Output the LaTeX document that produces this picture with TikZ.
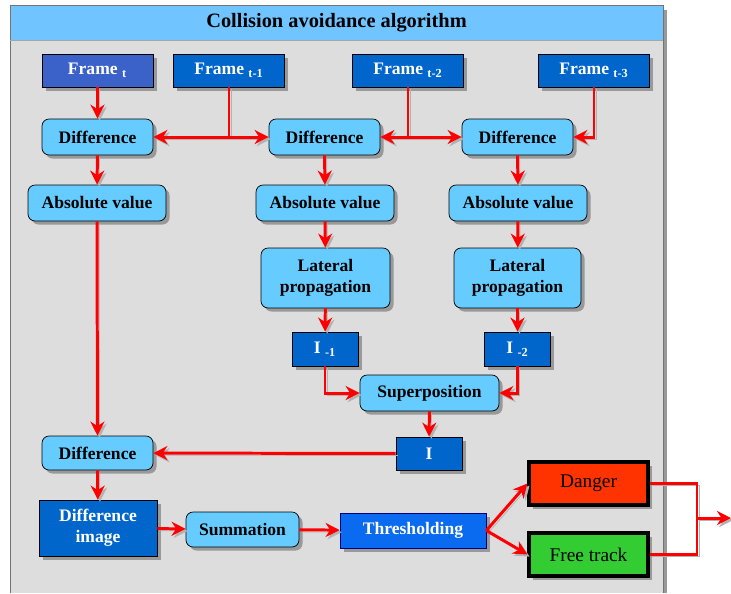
\documentclass[tikz,border=0pt]{standalone}
\usepackage{fontspec}
\setmainfont{Liberation Serif}
\usepackage{tikz}
\usetikzlibrary{arrows.meta, positioning, calc, shadows}
\definecolor{panelgray}{HTML}{DDDDDD}
\definecolor{titleblue}{HTML}{70C4FF}
\definecolor{lightbox}{HTML}{66CCFF}
\definecolor{darkbox}{HTML}{0066CC}
\definecolor{framebox}{HTML}{3A62C8}
\definecolor{thrbox}{HTML}{0A6AF0}
\definecolor{dangerbox}{HTML}{FF3300}
\definecolor{freebox}{HTML}{33CC33}

\begin{document}
\begin{tikzpicture}[x=0.02cm, y=-0.02cm,
  shade/.style={drop shadow={shadow xshift=2pt, shadow yshift=-2pt, fill=black!40, opacity=1}},
  dark/.style={draw=black, fill=darkbox, text=white, font=\bfseries, inner sep=0pt, shade},
  light/.style={draw=black, fill=lightbox, rounded corners=4pt, font=\bfseries, inner sep=0pt, align=center, shade},
  result/.style={draw=black, line width=1.8pt, inner sep=0pt, shade},
  flow/.style={-{Stealth[length=8pt, width=8pt]}, red, line width=1.7pt,
    preaction={draw=black!30, transform canvas={shift={(1.2pt,-1.2pt)}}}},
  flowline/.style={red, line width=1.7pt,
    preaction={draw=black!30, transform canvas={shift={(1.2pt,-1.2pt)}}}}]
  \useasboundingbox (0,0) rectangle (731,593);

  % Panel and title bar
  \fill[black!40] (663,10) rectangle (667,593);
  \fill[panelgray] (10,5) rectangle (663,593);
  \fill[titleblue] (10,5) rectangle (663,40);
  \draw[black!55] (10,593) -- (10,5) -- (663,5) -- (663,593);
  \draw[black!35] (10,40) -- (663,40);
  \node[font=\fontsize{11.6}{14}\selectfont\bfseries] (title) at (336.5,22.5) {Collision avoidance algorithm};

  % Input frames
  \node[dark, fill=framebox, minimum width=111*0.02cm, minimum height=33*0.02cm] (fT) at (97.5,70.5) {Frame \textsubscript{t}};
  \node[dark, minimum width=111*0.02cm, minimum height=33*0.02cm] (fT1) at (229,70.5) {Frame \textsubscript{t-1}};
  \node[dark, minimum width=111*0.02cm, minimum height=33*0.02cm] (fT2) at (408,70.5) {Frame \textsubscript{t-2}};
  \node[dark, minimum width=111*0.02cm, minimum height=33*0.02cm] (fT3) at (594,70.5) {Frame \textsubscript{t-3}};

  % Differences and absolute values
  \node[light, minimum width=111*0.02cm, minimum height=36*0.02cm] (dA) at (97.5,137) {Difference};
  \node[light, minimum width=111*0.02cm, minimum height=36*0.02cm] (dB) at (324.5,137) {Difference};
  \node[light, minimum width=111*0.02cm, minimum height=36*0.02cm] (dC) at (517.5,137) {Difference};
  \node[light, minimum width=138*0.02cm, minimum height=36*0.02cm] (aA) at (97,203) {Absolute value};
  \node[light, minimum width=138*0.02cm, minimum height=36*0.02cm] (aB) at (325,203) {Absolute value};
  \node[light, minimum width=138*0.02cm, minimum height=36*0.02cm] (aC) at (518,203) {Absolute value};

  % Lateral propagation branch
  \node[light, minimum width=129*0.02cm, minimum height=60*0.02cm] (lB) at (325.5,278) {Lateral\\propagation};
  \node[light, minimum width=127*0.02cm, minimum height=60*0.02cm] (lC) at (517.5,278) {Lateral\\propagation};
  \node[dark, minimum width=66*0.02cm, minimum height=34*0.02cm] (iB) at (325,349) {I \textsubscript{-1}};
  \node[dark, minimum width=66*0.02cm, minimum height=34*0.02cm] (iC) at (517.5,349) {I \textsubscript{-2}};
  \node[light, minimum width=139*0.02cm, minimum height=36*0.02cm] (sup) at (429.5,393) {Superposition};
  \node[dark, minimum width=66*0.02cm, minimum height=33*0.02cm] (iS) at (429,453.5) {I};

  % Final stage
  \node[light, minimum width=111*0.02cm, minimum height=34*0.02cm] (dD) at (97.5,453) {Difference};
  \node[dark, align=center, minimum width=118*0.02cm, minimum height=56*0.02cm] (dimg) at (98,528) {Difference\\image};
  \node[light, minimum width=113*0.02cm, minimum height=35*0.02cm] (sum) at (242.5,529.5) {Summation};
  \node[dark, draw=blue!50!black, fill=thrbox, minimum width=146*0.02cm, minimum height=35*0.02cm] (thr) at (413,530.5) {Thresholding};
  \node[result, fill=dangerbox, minimum width=119*0.02cm, minimum height=43*0.02cm, font=\fontsize{11}{13}\selectfont] (danger) at (588.5,483.5) {Danger};
  \node[result, fill=freebox, minimum width=119*0.02cm, minimum height=43*0.02cm, font=\fontsize{11}{13}\selectfont] (free) at (588.5,554.5) {Free track};
  \coordinate (jn) at (697,518);
  \coordinate (out) at (731,518);

  % Connections
  \draw[flow] (fT) -- (dA);
  \draw[flow] (fT1.south) |- (dA.east);
  \draw[flow] (fT1.south) |- (dB.west);
  \draw[flow] (fT2.south) |- (dB.east);
  \draw[flow] (fT2.south) |- (dC.west);
  \draw[flow] (fT3.south) |- (dC.east);
  \draw[flow] (dA) -- (aA);
  \draw[flow] (dB) -- (aB);
  \draw[flow] (dC) -- (aC);
  \draw[flow] (aA) -- (dD);
  \draw[flow] (aB) -- (lB);
  \draw[flow] (aC) -- (lC);
  \draw[flow] (lB) -- (iB);
  \draw[flow] (lC) -- (iC);
  \draw[flow] (iB.south) |- (sup.west);
  \draw[flow] (iC.south) |- (sup.east);
  \draw[flow] (sup) -- (iS);
  \draw[flow] (iS) -- (dD);
  \draw[flow] (dD) -- (dimg);
  \draw[flow] (dimg) -- (sum);
  \draw[flow] (sum) -- (thr);
  \draw[flow] (thr.east) -- (danger.west);
  \draw[flow] (thr.east) -- (free.west);
  \draw[flowline] (danger.east) -| (jn) |- (free.east);
  \draw[flow] (jn) -- (out);
\end{tikzpicture}
\end{document}
